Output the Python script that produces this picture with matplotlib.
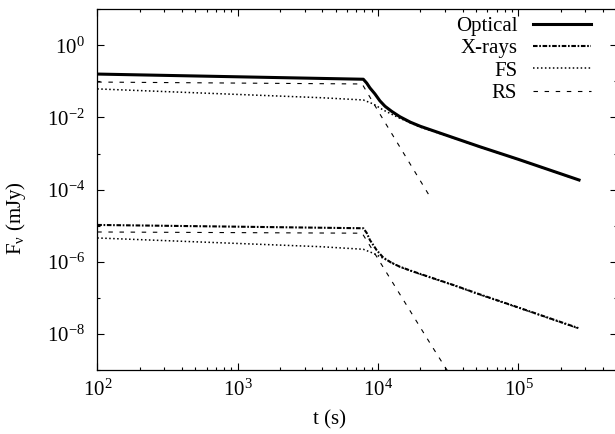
import numpy as np
import matplotlib
matplotlib.use('Agg')
import matplotlib.pyplot as plt
from matplotlib.ticker import LogLocator, FixedLocator, FuncFormatter, NullFormatter

plt.rcParams['font.family'] = 'Liberation Serif'
plt.rcParams['mathtext.fontset'] = 'custom'
plt.rcParams['mathtext.rm'] = 'Liberation Serif'
plt.rcParams['mathtext.it'] = 'Liberation Serif:italic'

# light curves (t in s, flux in mJy)
t_opt = [1e2, 7.85e3, 8.3e3, 8.75e3, 9.5e3, 1.03e4, 1.12e4, 1.25e4, 1.43e4, 1.7e4, 2.0e4,
         3.4e4, 5.3e4, 1.0e5, 2.7e5]
f_opt = [0.16, 0.115, 0.09, 0.066, 0.045, 0.029, 0.0205, 0.0148, 0.0105, 0.0074, 5.7e-3,
         2.8e-3, 1.55e-3, 6.9e-4, 1.85e-4]

t_x = [1e2, 7.85e3, 8.3e3, 8.75e3, 9.77e3, 1.09e4, 1.25e4, 1.43e4, 1.7e4, 2.0e4,
       3.43e4, 5.3e4, 1.0e5, 2.67e5]
f_x = [1.05e-5, 8.5e-6, 6.3e-6, 4.0e-6, 2.1e-6, 1.3e-6, 9.3e-7, 7.3e-7, 5.7e-7, 4.6e-7,
       2.28e-7, 1.25e-7, 5.4e-8, 1.45e-8]

# forward shock, optical and X-ray
t_fs_opt = [1e2, 3.9e3, 7.85e3, 9.25e3, 1.09e4, 1.25e4, 1.43e4, 2.0e4, 3.4e4, 5.3e4, 1.0e5, 2.7e5]
f_fs_opt = [0.062, 0.0354, 0.0306, 0.0237, 0.0161, 0.0123, 0.0095, 5.4e-3, 2.75e-3, 1.52e-3, 6.8e-4, 1.82e-4]
t_fs_x = [1e2, 3.9e3, 7.85e3, 9.25e3, 1.15e4, 1.43e4, 2.0e4, 3.43e4, 5.3e4, 1.0e5, 2.67e5]
f_fs_x = [4.57e-6, 2.62e-6, 2.22e-6, 1.72e-6, 1.12e-6, 7.2e-7, 4.5e-7, 2.24e-7, 1.22e-7, 5.3e-8, 1.42e-8]

# reverse shock, optical and X-ray
t_rs_opt = [1e2, 7.7e3, 1.03e4, 2.34e4]
f_rs_opt = [0.096, 0.085, 0.0125, 6.4e-5]
t_rs_x = [1e2, 7.7e3, 1.0e4, 2.34e4, 3.0e4, 3.3e4]
f_rs_x = [6.7e-6, 6.2e-6, 1.2e-6, 5.6e-9, 1.2e-9, 7e-10]

fig = plt.figure(figsize=(6.15, 4.34), dpi=100)
ax = fig.add_axes([0.1582, 0.1475, 0.8444, 0.8311])

ax.plot(t_opt, f_opt, color='k', lw=2.2, label='Optical')
ax.plot(t_x, f_x, color='k', lw=1.5, dashes=(2.2, 0.8, 0.8, 0.8), label='X-rays')
ax.plot(t_fs_opt, f_fs_opt, color='k', lw=1.1, dashes=(1, 1.6), label='FS')
ax.plot(t_fs_x, f_fs_x, color='k', lw=1.1, dashes=(1, 1.6))
ax.plot(t_rs_opt, f_rs_opt, color='k', lw=0.8, dashes=(4, 6), label='RS')
ax.plot(t_rs_x, f_rs_x, color='k', lw=0.8, dashes=(4, 6))

ax.set_xscale('log')
ax.set_yscale('log')
ax.set_xlim(1e2, 5e5)
ax.set_ylim(1e-9, 1e1)

def pow_fmt(v, pos):
    return r'$\mathregular{10^{%d}}$' % int(round(np.log10(v)))

ax.xaxis.set_major_locator(LogLocator(base=10))
ax.xaxis.set_minor_locator(LogLocator(base=10, subs=np.arange(2, 10)))
ax.xaxis.set_major_formatter(FuncFormatter(pow_fmt))
ax.xaxis.set_minor_formatter(NullFormatter())
ax.yaxis.set_major_locator(FixedLocator(10.0 ** np.arange(-8, 1, 2)))
ax.yaxis.set_minor_locator(FixedLocator(10.0 ** np.arange(-9, 2, 2)))
ax.yaxis.set_major_formatter(FuncFormatter(pow_fmt))
ax.yaxis.set_minor_formatter(NullFormatter())

ax.tick_params(which='both', direction='in', top=True, right=True, labelsize=15, width=0.8)
ax.tick_params(which='major', length=5)
ax.tick_params(which='minor', length=2.5)
ax.tick_params(axis='x', pad=7)
ax.tick_params(axis='y', pad=9)
for s in ax.spines.values():
    s.set_linewidth(0.9)

ax.set_xlabel('t (s)', fontsize=15)
ax.xaxis.set_label_coords(0.448, -0.112)
ax.set_ylabel(r'F$_\mathregular{\nu}$ (mJy)', fontsize=15)
ax.yaxis.set_label_coords(-0.133, 0.42)

ax.legend(loc='upper right', bbox_to_anchor=(0.951, 0.98), frameon=False, fontsize=15,
          markerfirst=False, handlelength=2.8, handletextpad=0.75, labelspacing=0.13,
          borderpad=0, borderaxespad=0)

fig.savefig('out.png', dpi=100)
